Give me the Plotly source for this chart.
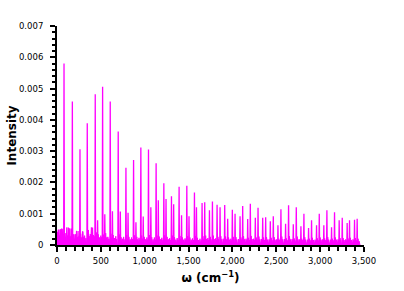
import plotly.graph_objects as go

# Main (dominant) peak series: position (cm^-1) and intensity
main_w = [80, 175, 262, 345, 436, 520, 607, 698, 786, 873, 956, 1043, 1130, 1218,
          1305, 1392, 1480, 1567, 1654, 1738, 1825, 1912, 1999, 2087, 2174, 2261,
          2345, 2432, 2519, 2606, 2694, 2781, 2868, 2959, 3042, 3130, 3217, 3308, 3392]
main_h = [0.0058, 0.00459, 0.00306, 0.00389, 0.00482, 0.00506, 0.00459, 0.00363,
          0.00247, 0.00272, 0.00312, 0.00305, 0.00261, 0.00197, 0.00156, 0.00186,
          0.00189, 0.00168, 0.00134, 0.00111, 0.00129, 0.00128, 0.00113, 0.00092,
          0.00083, 0.00087, 0.00087, 0.00076, 0.00063, 0.00068, 0.00066, 0.0006,
          0.00054, 0.00063, 0.00063, 0.00057, 0.00079, 0.0007, 0.00081]

# Secondary peak series
sec_w = [15, 45, 60, 130, 160, 205, 240, 295, 355, 405, 463, 545, 632, 722, 810,
         900, 983, 1070, 1155, 1243, 1330, 1420, 1505, 1590, 1684, 1772, 1859, 1946,
         2030, 2117, 2204, 2292, 2379, 2466, 2553, 2640, 2728, 2815, 2902, 2990, 3077,
         3164, 3252, 3335, 3422]
sec_h = [0.00049, 0.0005, 0.00052, 0.00056, 0.00053, 0.00034, 0.00045, 0.00043,
         0.00048, 0.00056, 0.00079, 0.00098, 0.00108, 0.00107, 0.00103, 0.00073,
         0.00091, 0.00121, 0.00143, 0.00147, 0.0013, 0.00095, 0.00092, 0.00121,
         0.00137, 0.00139, 0.00121, 0.00084, 0.001, 0.00125, 0.00132, 0.00119,
         0.00089, 0.00092, 0.00114, 0.00127, 0.00121, 0.001, 0.00079, 0.001, 0.00111,
         0.00105, 0.00087, 0.00079, 0.00084]

# Low-level background lines: position (cm^-1) and intensity in units of 1e-4
minor_w = [5, 12, 22, 30, 38, 52, 68, 92, 100, 112,
           120, 140, 150, 168, 188, 195, 210, 222, 232, 250,
           270, 278, 290, 305, 315, 330, 358, 366, 380, 392,
           415, 425, 448, 455, 470, 485, 500, 510, 530, 555,
           565, 580, 592, 615, 622, 640, 655, 670, 680, 708,
           715, 730, 745, 760, 775, 795, 805, 820, 835, 850,
           860, 882, 890, 910, 920, 935, 945, 965, 975, 995,
           1010, 1025, 1035, 1052, 1060, 1080, 1095, 1110, 1120, 1140,
           1148, 1165, 1180, 1195, 1208, 1228, 1235, 1255, 1270, 1285,
           1295, 1315, 1322, 1340, 1355, 1370, 1382, 1402, 1410, 1430,
           1445, 1460, 1470, 1490, 1498, 1515, 1530, 1545, 1557, 1577,
           1585, 1600, 1615, 1630, 1645, 1664, 1672, 1695, 1705, 1720,
           1730, 1748, 1756, 1782, 1792, 1808, 1818, 1835, 1842, 1868,
           1878, 1895, 1905, 1922, 1930, 1956, 1965, 1982, 1992, 2009,
           2016, 2040, 2050, 2068, 2078, 2097, 2105, 2127, 2137, 2155,
           2165, 2184, 2192, 2214, 2224, 2242, 2252, 2271, 2279, 2302,
           2312, 2330, 2338, 2355, 2363, 2389, 2399, 2418, 2425, 2442,
           2450, 2476, 2486, 2505, 2512, 2529, 2537, 2563, 2573, 2592,
           2599, 2616, 2624, 2650, 2660, 2680, 2687, 2704, 2712, 2738,
           2748, 2767, 2774, 2791, 2799, 2825, 2835, 2855, 2862, 2878,
           2886, 2912, 2922, 2942, 2950, 2969, 2977, 3000, 3010, 3030,
           3036, 3052, 3060, 3087, 3097, 3117, 3124, 3140, 3148, 3174,
           3184, 3204, 3210, 3227, 3235, 3262, 3272, 3292, 3300, 3318,
           3326, 3345, 3355, 3375, 3384, 3402, 3410, 3432, 3445]
minor_h_e4 = [4.2, 3.5, 4.9, 3.0, 5.0, 5.2, 2.5, 3.8, 2.6, 5.6,
              3.0, 5.3, 2.8, 2.2, 3.4, 2.0, 3.4, 4.5, 2.5, 2.8,
              3.6, 2.4, 4.3, 2.6, 3.0, 2.2, 4.8, 2.9, 3.5, 5.6,
              3.2, 2.8, 4.0, 2.6, 3.4, 2.4, 3.0, 2.5, 3.3, 3.8,
              2.4, 2.6, 2.0, 3.6, 2.3, 3.2, 2.2, 2.8, 1.9, 3.4,
              2.2, 2.5, 2.0, 2.6, 1.8, 3.2, 2.0, 2.6, 1.8, 2.4,
              1.9, 3.1, 2.1, 2.6, 1.8, 2.3, 1.7, 3.0, 2.0, 2.6,
              1.8, 2.4, 1.7, 3.2, 2.1, 2.5, 1.8, 2.4, 1.7, 3.0,
              2.0, 2.7, 1.8, 2.3, 1.7, 3.1, 2.0, 2.6, 1.8, 2.2,
              1.6, 3.0, 1.9, 2.5, 1.7, 2.2, 1.6, 2.9, 1.9, 2.4,
              1.7, 2.1, 1.6, 2.8, 1.9, 2.4, 1.7, 2.1, 1.6, 2.9,
              1.9, 2.3, 1.6, 2.0, 1.5, 2.8, 1.8, 3.0, 1.9, 2.2,
              1.6, 2.6, 1.8, 3.0, 1.9, 2.1, 1.6, 2.6, 1.8, 2.8,
              1.8, 2.0, 1.5, 2.7, 1.8, 2.4, 1.7, 2.0, 1.5, 2.6,
              1.7, 2.5, 1.7, 1.9, 1.5, 2.4, 1.7, 2.8, 1.8, 2.0,
              1.5, 2.3, 1.6, 2.9, 1.9, 2.0, 1.5, 2.4, 1.6, 2.7,
              1.8, 1.9, 1.5, 2.4, 1.6, 2.5, 1.7, 1.8, 1.4, 2.3,
              1.6, 2.5, 1.7, 1.8, 1.4, 2.0, 1.5, 2.7, 1.8, 1.9,
              1.5, 2.1, 1.5, 2.8, 1.8, 1.9, 1.4, 2.1, 1.5, 2.7,
              1.8, 1.8, 1.4, 2.0, 1.5, 2.5, 1.7, 1.7, 1.3, 2.0,
              1.5, 2.3, 1.6, 1.7, 1.3, 2.1, 1.5, 2.4, 1.7, 1.8,
              1.4, 2.1, 1.5, 2.5, 1.7, 1.7, 1.3, 2.0, 1.5, 2.4,
              1.7, 1.8, 1.4, 2.2, 1.5, 2.2, 1.6, 1.8, 1.4, 2.1,
              1.5, 2.3, 1.6, 1.8, 1.4, 2.2, 1.5, 2.0, 1.2]
MINOR_UNIT = 1e-4

x_tickvals = [0, 500, 1000, 1500, 2000, 2500, 3000, 3500]
x_ticktext = ["0", "500", "1,000", "1,500", "2,000", "2,500", "3,000", "3,500"]
y_tickvals = [0, 0.001, 0.002, 0.003, 0.004, 0.005, 0.006, 0.007]
y_ticktext = ["0", "0.001", "0.002", "0.003", "0.004", "0.005", "0.006", "0.007"]

assert len(main_w) == len(main_h)
assert len(sec_w) == len(sec_h)
assert len(minor_w) == len(minor_h_e4)

MAGENTA = "#ff00ff"


def stick_path(ws, hs, half):
    xs, ys = [], []
    for w, h in sorted(zip(ws, hs)):
        xs += [w - half, w, w + half]
        ys += [0, h, 0]
    return xs, ys


fig = go.Figure()

mx, my = stick_path(minor_w, [h * MINOR_UNIT for h in minor_h_e4], 9)
fig.add_trace(go.Scatter(x=mx, y=my, mode="lines", fill="tozeroy",
                         fillcolor=MAGENTA, line=dict(color=MAGENTA, width=1),
                         hoverinfo="skip", showlegend=False))

px, py = stick_path(main_w + sec_w, main_h + sec_h, 4)
fig.add_trace(go.Scatter(x=px, y=py, mode="lines",
                         line=dict(color=MAGENTA, width=1.3),
                         showlegend=False))

axis_font = dict(family="DejaVu Sans", size=8.5, color="black")
fig.update_layout(
    width=404, height=291,
    margin=dict(l=57, r=40, t=26, b=46, autoexpand=False),
    paper_bgcolor="white", plot_bgcolor="white",
    font=dict(family="DejaVu Sans", color="black"),
    xaxis=dict(range=[0, 3500], tickvals=x_tickvals, ticktext=x_ticktext,
               automargin=False,
               showline=True, linecolor="black", linewidth=2,
               ticks="outside", ticklen=5, tickwidth=1.5, tickcolor="black",
               minor=dict(dtick=100, ticks="outside", ticklen=4, tickwidth=1.5,
                          tickcolor="black"),
               ticklabelstandoff=2,
               showgrid=False, zeroline=False, tickfont=axis_font,
               title=dict(text="<b>ω (cm<sup>−1</sup>)</b>",
                          font=dict(family="DejaVu Sans", size=12), standoff=8)),
    yaxis=dict(range=[0, 0.007], tickvals=y_tickvals, ticktext=y_ticktext,
               automargin=False,
               showline=True, linecolor="black", linewidth=2,
               ticks="outside", ticklen=5, tickwidth=1.5, tickcolor="black",
               minor=dict(dtick=0.0002, ticks="outside", ticklen=3, tickwidth=1.5,
                          tickcolor="black"),
               ticklabelstandoff=5,
               showgrid=False, zeroline=False, tickfont=axis_font,
               title=dict(text="<b>Intensity</b>",
                          font=dict(family="DejaVu Sans", size=12), standoff=0)),
)

fig.write_html("out.html", config={"displayModeBar": False},
               post_script="document.body.style.margin='0';")
